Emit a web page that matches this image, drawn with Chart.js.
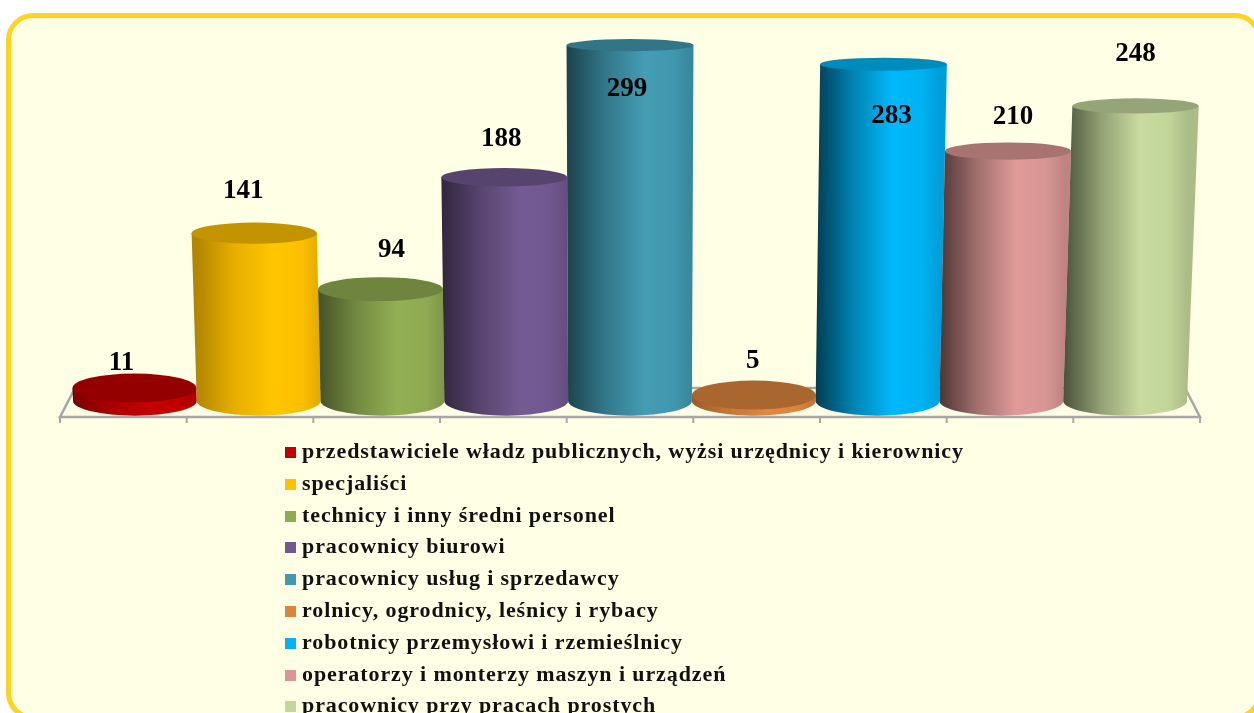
<!DOCTYPE html>
<html>
<head>
<meta charset="utf-8">
<style>
    html, body { margin: 0; padding: 0; width: 1254px; height: 713px; overflow: hidden; background: #fff; }
    .ramka { position: absolute; left: 6px; top: 13px; width: 1246px; height: 697px; border: 5px solid #FFD320; border-radius: 27px; background: #FFFFE5; }
    #grafico { position: absolute; left: 0; top: 0; }
    .legenda { position: absolute; left: 285px; top: 435px; font-family: "Liberation Serif", serif; font-weight: bold; font-size: 22px; letter-spacing: 0.9px; color: #111; }
    .legenda div { height: 31.8px; line-height: 31.8px; white-space: nowrap; }
    .legenda span { display: inline-block; width: 11px; height: 11px; margin-right: 6px; }
</style>
</head>
<body>
<div class="ramka"></div>
<canvas id="grafico" width="1254" height="713"></canvas>
<div class="legenda" id="legenda"></div>
<script src="https://cdn.jsdelivr.net/npm/chart.js@4"></script>
<script>
const categorias = [
    'przedstawiciele władz publicznych, wyżsi urzędnicy i kierownicy',
    'specjaliści',
    'technicy i inny średni personel',
    'pracownicy biurowi',
    'pracownicy usług i sprzedawcy',
    'rolnicy, ogrodnicy, leśnicy i rybacy',
    'robotnicy przemysłowi i rzemieślnicy',
    'operatorzy i monterzy maszyn i urządzeń',
    'pracownicy przy pracach prostych'
];
const valores = [11, 141, 94, 188, 299, 5, 283, 210, 248];
const cores = ['#C00000', '#FFC000', '#8FAB52', '#71588F', '#4198AF', '#DB843D', '#00B4F5', '#D99694', '#C3D69B'];

// sombra na borda esquerda de cada cilindro
const sombra = [0.65, 0.7, 0.5, 0.46, 0.45, 0.7, 0.34, 0.36, 0.38];
// deslocamento de cada rotulo em relacao ao topo do cilindro
const rotuloDx = [-13, -11, 11, -3, -3, -1, 8, 5, 0];
const rotuloDy = [-25, -42, -39, -38, 44, -34, 52, -34, -52];

const fugaX = 630;
const perspectiva = 0.000085;

function escurecer(hex, f) {
    let r = parseInt(hex.slice(1, 3), 16) * f;
    let g = parseInt(hex.slice(3, 5), 16) * f;
    let b = parseInt(hex.slice(5, 7), 16) * f;
    return `rgb(${Math.round(r)},${Math.round(g)},${Math.round(b)})`;
}

function raioElipse(y) {
    return 6.5 + (y - 62) * 0.024;
}

const cilindros = {
    id: 'cilindros',
    beforeDatasetsDraw(chart) {
        let ctx = chart.ctx;
        let xs = chart.scales.x;
        let base = chart.scales.y.getPixelForValue(0);
        let passo = (xs.right - xs.left) / categorias.length;
        let esc = 1.0233;
        let frente = base + 16;
        let fundo = base - 13;
        let x0 = fugaX + (xs.left - fugaX) * esc;
        let x1 = fugaX + (xs.right - fugaX) * esc;

        // piso
        ctx.save();
        ctx.strokeStyle = '#A6A6A6';
        ctx.lineWidth = 2.5;
        ctx.beginPath();
        ctx.moveTo(x0, frente);
        ctx.lineTo(x0 + 15, fundo);
        ctx.lineTo(x1 - 15, fundo);
        ctx.lineTo(x1, frente);
        ctx.closePath();
        ctx.stroke();
        ctx.lineWidth = 2;
        for (let i = 0; i <= categorias.length; i++) {
            let tx = fugaX + (xs.left + passo * i - fugaX) * esc;
            ctx.beginPath();
            ctx.moveTo(tx, frente);
            ctx.lineTo(tx, frente + 6);
            ctx.stroke();
        }
        ctx.restore();
    },
    afterDatasetsDraw(chart) {
        let ctx = chart.ctx;
        let barras = chart.getDatasetMeta(0).data;
        let base = chart.scales.y.getPixelForValue(0);
        let largura = barras[0].width;

        barras.forEach((barra, i) => {
            let s = 1 + perspectiva * valores[i];
            let cxBase = barra.x;
            let cxTopo = fugaX + (barra.x - fugaX) * s;
            let rxBase = largura / 2;
            let rxTopo = rxBase * s;
            let yTopo = barra.y;
            let ryBase = raioElipse(base);
            let ryTopo = raioElipse(yTopo);

            let grad = ctx.createLinearGradient(cxBase - rxBase, 0, cxBase + rxBase, 0);
            grad.addColorStop(0, escurecer(cores[i], sombra[i]));
            grad.addColorStop(0.3, escurecer(cores[i], (sombra[i] + 1.03) / 2 + 0.04));
            grad.addColorStop(0.62, escurecer(cores[i], 1.03));
            grad.addColorStop(0.86, escurecer(cores[i], 0.99));
            grad.addColorStop(1, escurecer(cores[i], 0.88));

            ctx.save();
            ctx.fillStyle = grad;
            ctx.beginPath();
            ctx.moveTo(cxTopo - rxTopo, yTopo);
            ctx.lineTo(cxBase - rxBase, base);
            ctx.ellipse(cxBase, base, rxBase, ryBase, 0, Math.PI, 0, true);
            ctx.lineTo(cxTopo + rxTopo, yTopo);
            ctx.closePath();
            ctx.fill();

            ctx.fillStyle = escurecer(cores[i], 0.77);
            ctx.beginPath();
            ctx.ellipse(cxTopo, yTopo, rxTopo, ryTopo, 0, 0, Math.PI * 2);
            ctx.fill();
            ctx.restore();
        });

        // os rotulos ficam por cima de todos os cilindros
        ctx.save();
        ctx.font = 'bold 27px "Liberation Serif", serif';
        ctx.fillStyle = '#000';
        ctx.textAlign = 'center';
        ctx.textBaseline = 'middle';
        barras.forEach((barra, i) => {
            let s = 1 + perspectiva * valores[i];
            let cxTopo = fugaX + (barra.x - fugaX) * s;
            ctx.fillText(String(valores[i]), cxTopo + rotuloDx[i], barra.y + rotuloDy[i]);
        });
        ctx.restore();
    }
};

new Chart(document.querySelector('#grafico'), {
    type: 'bar',
    data: {
        labels: categorias,
        datasets: [{
            data: valores,
            backgroundColor: 'rgba(0,0,0,0)',
            categoryPercentage: 1,
            barPercentage: 1
        }]
    },
    options: {
        responsive: false,
        animation: false,
        layout: { padding: { left: 73, right: 67, top: 44, bottom: 312 } },
        plugins: { legend: { display: false }, tooltip: { enabled: false } },
        scales: {
            x: { display: false },
            y: { display: false, min: 0, max: 300 }
        }
    },
    plugins: [cilindros]
});

const legenda = document.querySelector('#legenda');
categorias.forEach((nome, i) => {
    let linha = document.createElement('div');
    let quadrado = document.createElement('span');
    quadrado.style.background = cores[i];
    linha.appendChild(quadrado);
    linha.appendChild(document.createTextNode(nome));
    legenda.appendChild(linha);
});
</script>
</body>
</html>
